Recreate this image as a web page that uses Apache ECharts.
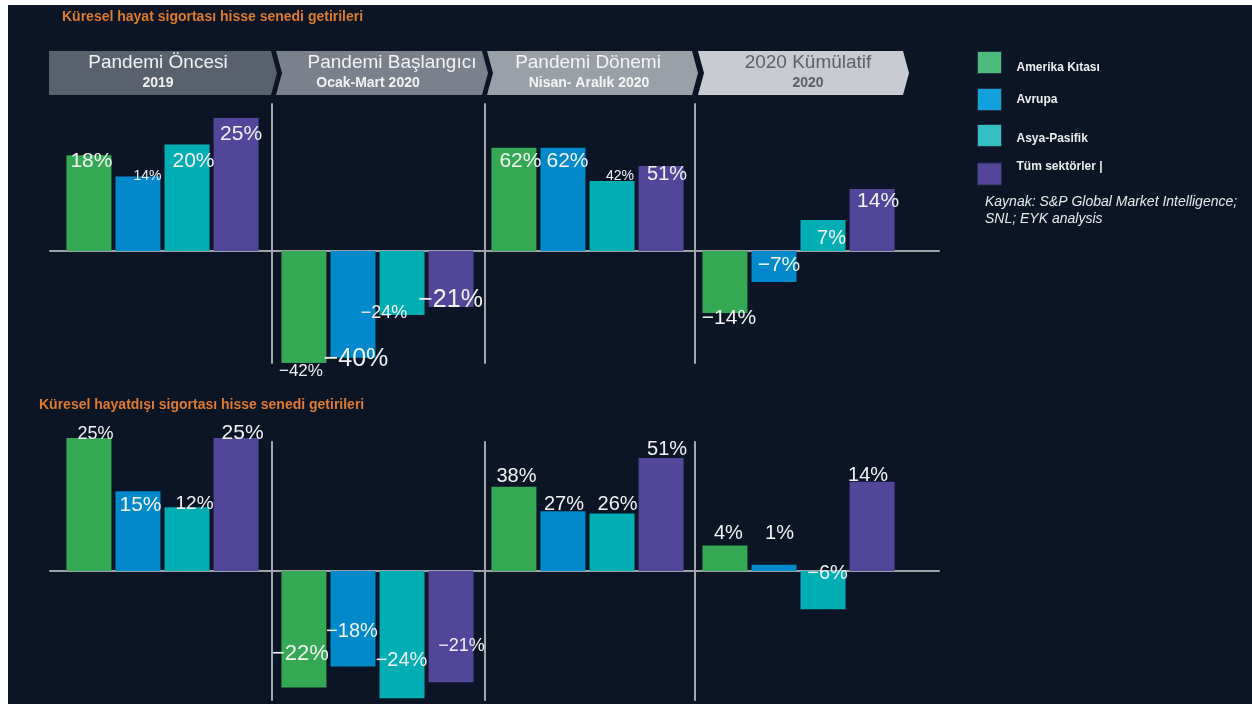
<!DOCTYPE html>
<html><head><meta charset="utf-8">
<script src="https://cdn.jsdelivr.net/npm/echarts@6/dist/echarts.min.js"></script>
<style>
html,body{margin:0;padding:0;background:#fff;width:1252px;height:704px;overflow:hidden}
#bg{position:absolute;left:8px;top:5px;width:1244px;height:699px;background:#0b1526}
#chart{position:absolute;left:0;top:0;width:1252px;height:704px}
</style></head><body>
<div id="bg"></div><div id="chart"></div>
<script>
// ---- data ----
const periods = ['Pandemi Öncesi', 'Pandemi Başlangıcı', 'Pandemi Dönemi', '2020 Kümülatif'];
const periodSub = ['2019', 'Ocak-Mart 2020', 'Nisan- Aralık 2020', '2020'];
const regions = ['Amerika Kıtası', 'Avrupa', 'Asya-Pasifik', 'Tüm sektörler'];
const chartTitles = ['Küresel hayat sigortası hisse senedi getirileri', 'Küresel hayatdışı sigortası hisse senedi getirileri'];
const sourceNote = 'Kaynak: S&P Global Market Intelligence;\nSNL; EYK analysis';

const lifeAmerika = [18, -42, 62, -14];
const lifeAvrupa = [14, -40, 62, -7];
const lifeAsya = [20, -24, 42, 7];
const lifeTum = [25, -21, 51, 14];

const nonlifeAmerika = [25, -22, 38, 4];
const nonlifeAvrupa = [15, -18, 27, 1];
const nonlifeAsya = [12, -24, 26, -6];
const nonlifeTum = [25, -21, 51, 14];

// ---- styles ----
const charts = [[lifeAmerika, lifeAvrupa, lifeAsya, lifeTum], [nonlifeAmerika, nonlifeAvrupa, nonlifeAsya, nonlifeTum]];
const barColors = ['#34a853', '#0189cb', '#00aeb3', '#52469b'];
const legendColors = ['#4cbb79', '#12a0dd', '#36bfc2', '#54459b'];
const gridX = [[50, 225], [272, 211], [485, 205], [695, 207]];
const chartY = [{ top: 104, height: 259, zero: 251 }, { top: 442, height: 258, zero: 571 }];
const yRanges = [
  [[-21.05, 27.63], [-42, 55.1], [-67.3, 88.3], [-25.3, 33.2]],
  [[-24.25, 24.25], [-24.34, 24.34], [-58.24, 58.24], [-20.25, 20.25]]
];
// label style: [dx, dy, fontSize]  per chart -> region -> period
const labelStyle = [
  [
    [[2.5, -4.5, 21], [-3, 0, 17], [6.5, 2.5, 21], [4, -5, 21]],
    [[9.5, -7, 14], [3, -11.5, 25], [4.5, 2.5, 21], [5, -27.5, 21]],
    [[6.5, 6, 21], [-18, -11, 18], [8, -11.5, 14], [8.5, 8, 20]],
    [[5, 5.5, 21], [-0.5, -19.5, 25], [6, -2, 20], [6, 2, 21]]
  ],
  [
    [[6.5, -13, 18], [-3.5, -45, 22], [2.5, -20, 20], [3.5, -22.5, 20]],
    [[2.5, 3, 21], [-1, -44.5, 20], [1, -17, 20], [5.5, -41.5, 20]],
    [[7.5, -12.5, 19], [-0.5, -47.5, 20], [5.5, -19, 20], [4.5, -45.5, 20]],
    [[6.5, -15, 21], [10.5, -45.5, 18], [6, -18.5, 20], [-4, -16, 20]]
  ]
];
const FONT = 'Liberation Sans, Arial, sans-serif';

const grid = [], xAxis = [], yAxis = [], series = [];
for (let c = 0; c < 2; c++) {
  for (let p = 0; p < 4; p++) {
    const gi = grid.length;
    grid.push({ left: gridX[p][0], width: gridX[p][1], top: chartY[c].top, height: chartY[c].height });
    xAxis.push({ type: 'category', gridIndex: gi, data: [periods[p]], axisLine: { show: false }, axisTick: { show: false }, axisLabel: { show: false } });
    yAxis.push({ type: 'value', gridIndex: gi, min: yRanges[c][p][0], max: yRanges[c][p][1],
      splitLine: { show: false }, axisLabel: { show: false }, axisTick: { show: false },
      axisLine: { show: p > 0, onZero: false, lineStyle: { color: '#a5a9ae', width: 2 } } });
    for (let r = 0; r < 4; r++) {
      const v = charts[c][r][p];
      const st = labelStyle[c][r][p];
      series.push({
        type: 'bar', name: regions[r], xAxisIndex: gi, yAxisIndex: gi,
        barWidth: 45, barGap: '9%', clip: false, silent: true,
        itemStyle: { color: barColors[r] },
        data: [{
          value: v,
          label: {
            show: true, position: v >= 0 ? 'insideTop' : 'bottom', distance: 0,
            offset: [st[0], st[1]], fontSize: st[2], color: '#f2f2f2', fontFamily: FONT,
            formatter: (d) => (d.value < 0 ? '\u2212' : '') + Math.abs(d.value) + '%'
          }
        }]
      });
    }
  }
}
// zero baselines spanning all panels
for (let c = 0; c < 2; c++) {
  const gi = grid.length;
  grid.push({ left: 50, width: 889, top: chartY[c].zero - 10, height: 20 });
  xAxis.push({ type: 'category', gridIndex: gi, data: [''], axisTick: { show: false }, axisLabel: { show: false },
    axisLine: { show: true, onZero: true, lineStyle: { color: '#9ea3a9', width: 2 } } });
  yAxis.push({ type: 'value', gridIndex: gi, min: -1, max: 1, show: false, splitLine: { show: false } });
}

const legendTops = [51, 88, 124, 161];
const legendPads = [[10, 0, 0, 10], [1, 0, 0, 10], [6, 0, 0, 10], [0, 0, 14, 10]];
const legend = regions.map((name, i) => ({
  data: [{ name, itemStyle: { color: legendColors[i], borderColor: '#1f3346', borderWidth: 1 } }],
  left: 977, top: legendTops[i], padding: 0, itemWidth: 24, itemHeight: 22,
  selectedMode: false, icon: 'rect',
  formatter: (n) => '{t|' + n + (i === 3 ? ' |' : '') + '}',
  textStyle: {
    color: '#eeeeee', fontSize: 12, fontWeight: 'bold', fontFamily: FONT,
    rich: { t: { color: '#eeeeee', fontSize: 12, fontWeight: 'bold', fontFamily: FONT, padding: legendPads[i] } }
  }
}));

// header chevrons
const chevFill = ['#58616d', '#7a818c', '#9aa0a8', '#c8cbd1'];
const chevText = ['#f2f2f2', '#f2f2f2', '#f4f4f4', '#5c616b'];
const chevPts = [
  [[49, 51], [271, 51], [277, 73], [271, 95], [49, 95]],
  [[276, 51], [482, 51], [488, 73], [482, 95], [276, 95], [282, 73]],
  [[487, 51], [692, 51], [698, 73], [692, 95], [487, 95], [493, 73]],
  [[698, 51], [903, 51], [909, 73], [903, 95], [698, 95], [704, 73]]
];
const headMain = [158, 392, 588, 808];
const headSub = [158, 368, 589, 808];
const graphic = [];
for (let p = 0; p < 4; p++) {
  graphic.push({ type: 'polygon', shape: { points: chevPts[p] }, style: { fill: chevFill[p] }, silent: true });
  graphic.push({ type: 'text', x: headMain[p], y: 63, style: { text: periods[p], fill: chevText[p], fontSize: 19, fontFamily: FONT, align: 'center', verticalAlign: 'middle' } });
  graphic.push({ type: 'text', x: headSub[p], y: 83, style: { text: periodSub[p], fill: chevText[p], fontSize: 14, fontWeight: 'bold', fontFamily: FONT, align: 'center', verticalAlign: 'middle' } });
}
graphic.push({ type: 'text', x: 985, y: 194, style: { text: sourceNote, fill: '#e8e8e8', fontSize: 14, fontStyle: 'italic', fontFamily: FONT, lineHeight: 17, align: 'left', verticalAlign: 'top' } });

const option = {
  animation: false,
  backgroundColor: 'transparent',
  title: [
    { text: chartTitles[0], left: 62, top: 10, padding: 0, textStyle: { color: '#e07a2c', fontSize: 14, fontWeight: 'bold', fontFamily: FONT } },
    { text: chartTitles[1], left: 39, top: 398, padding: 0, textStyle: { color: '#e07a2c', fontSize: 14, fontWeight: 'bold', fontFamily: FONT } }
  ],
  legend, grid, xAxis, yAxis, series, graphic
};
const chart = echarts.init(document.getElementById('chart'), null, { renderer: 'canvas' });
chart.setOption(option);
</script>
</body></html>
